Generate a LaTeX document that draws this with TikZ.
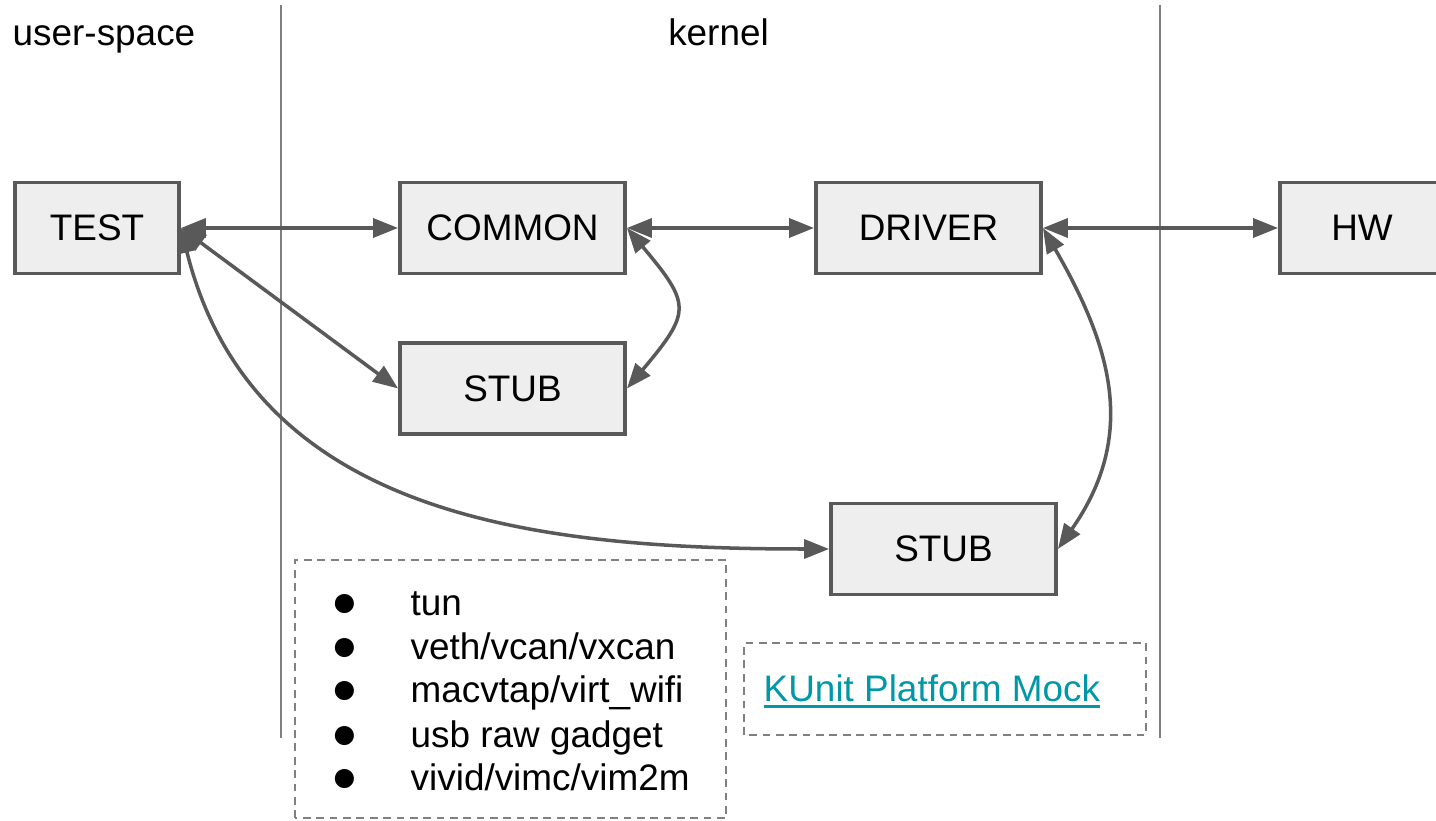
\documentclass[tikz,border=0pt]{standalone}
\usepackage{fontspec}
\setmainfont{Liberation Sans}
\usepackage{xcolor}
\usepackage{graphicx}
\usepackage{tikz}
\usetikzlibrary{arrows.meta}
\definecolor{BoxGray}{HTML}{EEEEEE}
\definecolor{LineGray}{HTML}{595959}
\definecolor{RuleGray}{HTML}{808080}
\definecolor{LinkTeal}{HTML}{0097A7}
\newcommand{\ulink}[1]{\setbox0\hbox{#1}\rlap{\rule[-1.9pt]{\wd0}{0.8pt}}\box0}
\newcommand{\dotmark}{\makebox[0.77cm][l]{\hspace{-0.5pt}\raisebox{-0.3pt}{\scalebox{1.2}{●}}}}
\tikzset{
  block/.style={draw=LineGray,fill=BoxGray,line width=1.1pt,minimum height=0.91cm,inner sep=0pt},
  link/.style={draw=LineGray,line width=1pt,{Triangle[length=2.5mm,width=1.9mm]}-{Triangle[length=2.5mm,width=1.9mm]}},
  note/.style={draw=RuleGray,line width=0.45pt,dash pattern=on 2.2pt off 1.6pt},
  item/.style={anchor=base west,inner sep=0pt}
}

\begin{document}
\begin{tikzpicture}[font=\fontsize{10.5}{12.4}\selectfont]
\useasboundingbox (0,0) rectangle (14.36,8.2);
\draw[color=RuleGray,line width=0.45pt] (2.81,8.15) -- (2.81,0.82);
\draw[color=RuleGray,line width=0.45pt] (11.60,8.15) -- (11.60,0.82);
\node[item] (user) at (0.12,7.74) {user-space};
\node[anchor=base,inner sep=0pt] (kern) at (7.185,7.74) {kernel};

\node[block,minimum width=1.64cm] (test) at (0.97,5.92) {\raisebox{-0.5pt}{TEST}};
\node[block,minimum width=2.25cm] (common) at (5.125,5.92) {\raisebox{-0.5pt}{COMMON}};
\node[block,minimum width=2.25cm] (driver) at (9.285,5.92) {\raisebox{-0.5pt}{DRIVER}};
\node[block,minimum width=1.64cm] (hw) at (13.62,5.92) {\raisebox{-0.5pt}{HW}};
\node[block,minimum width=2.25cm] (stubA) at (5.125,4.315) {\raisebox{-0.5pt}{STUB}};
\node[block,minimum width=2.25cm] (stubB) at (9.435,2.71) {\raisebox{-0.5pt}{STUB}};

\draw[link] (test.east) -- (common.west);
\draw[link] (common.east) -- (driver.west);
\draw[link] (driver.east) -- (hw.west);
\draw[link] (test.east) -- (stubA.west);
\draw[link] (test.east) to[out=-76,in=180,looseness=1.05] (stubB.west);
\draw[link] (common.east) to[out=-50,in=50,looseness=1.6] (stubA.east);
\draw[link] (driver.east) to[out=-60,in=55,looseness=1.1] (stubB.east);

\draw[note] (2.95,0.02) rectangle (7.26,2.60);
\node[item] (l1) at (3.33,2.05) {\dotmark tun};
\node[item] (l2) at (3.33,1.61) {\dotmark veth/vcan/vxcan};
\node[item] (l3) at (3.33,1.18) {\dotmark macvtap/virt\_wifi};
\node[item] (l4) at (3.33,0.73) {\dotmark usb raw gadget};
\node[item] (l5) at (3.33,0.30) {\dotmark vivid/vimc/vim2m};

\draw[note] (7.44,0.85) rectangle (11.46,1.77);
\node[item,text=LinkTeal] (mock) at (7.63,1.19) {\ulink{KUnit Platform Mock}};
\end{tikzpicture}
\end{document}
